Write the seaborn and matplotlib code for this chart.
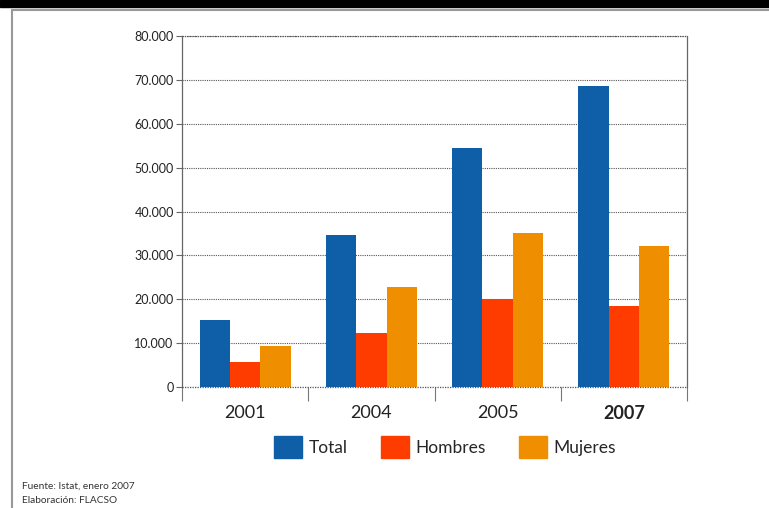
import matplotlib.pyplot as plt
import matplotlib.lines as mlines
import matplotlib.patches as mpatches
import matplotlib.ticker as mticker
import pandas as pd
import seaborn as sns

years = ["2001", "2004", "2005", "2007"]
series = ["Total", "Hombres", "Mujeres"]
total = [15200, 34600, 54400, 68600]
hombres = [5700, 12400, 20000, 18400]
mujeres = [9300, 22800, 35100, 32100]
colors = ["#0f5fa8", "#ff3c00", "#ef8f00"]

if __name__ == "__main__":
    sns.set_theme(style="white")
    plt.rcParams["font.family"] = ["Lato", "DejaVu Sans"]

    rows = []
    for serie, vals in zip(series, [total, hombres, mujeres]):
        for y, v in zip(years, vals):
            rows.append({"year": y, "serie": serie, "value": v})
    df = pd.DataFrame(rows)

    fig = plt.figure(figsize=(7.69, 5.08), dpi=100)
    ax = fig.add_axes([0.2367, 0.2382, 0.6567, 0.6909])

    sns.barplot(data=df, x="year", y="value", hue="serie", order=years,
                hue_order=series, palette=colors, width=0.72, gap=0,
                saturation=1, linewidth=0, ax=ax, legend=False)

    ax.set_ylim(0, 80000)
    ax.set_xlim(-0.5, 3.5)
    ax.yaxis.set_major_locator(mticker.MultipleLocator(10000))
    ax.yaxis.set_major_formatter(mticker.FuncFormatter(
        lambda v, p: f"{int(v):,}".replace(",", ".")))
    ax.grid(axis="y", color="#555555", linestyle=(0, (1, 1)), linewidth=0.8)
    ax.set_axisbelow(True)
    for side in ["top", "bottom"]:
        ax.spines[side].set_visible(False)
    for side in ["left", "right"]:
        ax.spines[side].set_color("#666666")
        ax.spines[side].set_linestyle((0, (1, 1)))
        ax.spines[side].set_linewidth(0.9)
    ax.axhline(0, color="#555555", linestyle=(0, (1, 1)), linewidth=0.9,
               clip_on=False, zorder=3)
    ax.axhline(80000, color="#555555", linestyle=(0, (1, 1)), linewidth=0.9,
               clip_on=False, zorder=3)
    ax.set_xlabel("")
    ax.set_ylabel("")
    ax.tick_params(axis="y", left=True, length=4, width=0.8, color="#666666",
                   labelsize=9, pad=2, labelcolor="#222222")
    ax.tick_params(axis="x", which="major", bottom=False, labelsize=13,
                   pad=7, labelcolor="#222222")
    ax.set_xticks([-0.5, 0.5, 1.5, 2.5, 3.5], minor=True)
    ax.tick_params(axis="x", which="minor", bottom=True, length=10, width=0.8,
                   color="#777777")
    ax.get_xticklabels()[3].set_fontweight("bold")

    handles = [mpatches.Patch(color=c, label=s) for c, s in zip(colors, series)]
    fig.legend(handles=handles, loc="center", bbox_to_anchor=(0.579, 0.12),
               ncol=3, frameon=False, fontsize=12.5, handlelength=1.6,
               handleheight=1.6, columnspacing=1.9, handletextpad=0.4)

    # page frame
    fig.patches.append(mpatches.Rectangle((0, 0.986), 1, 0.014, color="black",
                                          transform=fig.transFigure))
    fig.lines.append(mlines.Line2D([0.016, 1], [0.980, 0.980], color="#999999",
                                   lw=1.5, transform=fig.transFigure))
    fig.lines.append(mlines.Line2D([0.016, 0.016], [0, 0.980], color="#999999",
                                   lw=1.5, transform=fig.transFigure))

    fig.text(0.028, 0.038, "Fuente: Istat, enero 2007", fontsize=7.3,
             color="#333333")
    fig.text(0.028, 0.010, "Elaboración: FLACSO", fontsize=7.3, color="#333333")

    fig.savefig("out.png", dpi=100)
